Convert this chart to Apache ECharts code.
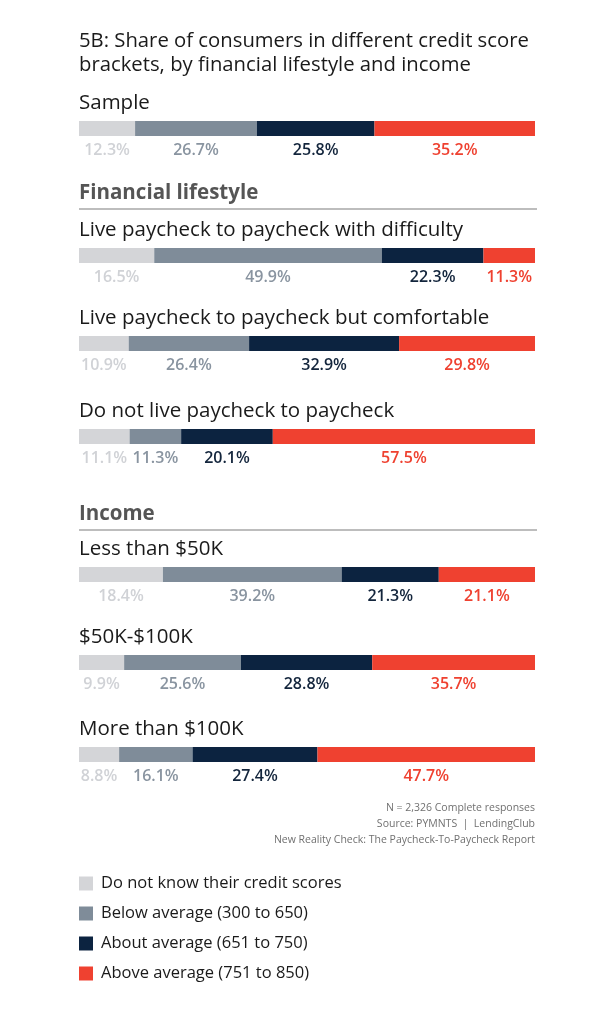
<!DOCTYPE html>
<html><head><meta charset="utf-8">
<script src="https://cdn.jsdelivr.net/npm/echarts@6/dist/echarts.min.js"></script>
<style>html,body{margin:0;padding:0;background:#fff}#c{width:600px;height:1012px}</style>
</head><body><div id="c"></div>
<script>
const categories = ["Sample","Live paycheck to paycheck with difficulty","Live paycheck to paycheck but comfortable","Do not live paycheck to paycheck","Less than $50K","$50K-$100K","More than $100K"];
const dontKnow = [12.3,16.5,10.9,11.1,18.4,9.9,8.8];
const belowAvg = [26.7,49.9,26.4,11.3,39.2,25.6,16.1];
const aboutAvg = [25.8,22.3,32.9,20.1,21.3,28.8,27.4];
const aboveAvg = [35.2,11.3,29.8,57.5,21.1,35.7,47.7];
const seriesNames = ["Do not know their credit scores","Below average (300 to 650)","About average (651 to 750)","Above average (751 to 850)"];
const sections = ["Financial lifestyle","Income"];

const FONT = "'Open Sans', sans-serif";
const barColors = ['#d4d5d8','#7f8c99','#0c2340','#ef4130'];
const labelColors = ['#d0d2d6','#8994a0','#13253c','#ef4130'];
const barTops = [121,248,336,429,567,655,747];
const BAR_H = 15, LEFT = 79, RIGHT = 65;

const chart = echarts.init(document.getElementById('c'), null, {renderer:'canvas'});
const grids=[], xAxes=[], yAxes=[], series=[], graphics=[];
const values=[dontKnow,belowAvg,aboutAvg,aboveAvg];
categories.forEach((cat,i)=>{
  grids.push({left:LEFT,right:RIGHT,top:barTops[i],height:BAR_H});
  xAxes.push({gridIndex:i,type:'value',min:0,max:100,show:false});
  yAxes.push({gridIndex:i,type:'category',data:[cat],show:false});
  values.forEach((arr,s)=>{
    series.push({
      type:'bar',name:seriesNames[s],xAxisIndex:i,yAxisIndex:i,stack:'g'+i,
      barWidth:'100%',data:[arr[i]],
      itemStyle:{color:barColors[s]},
      label:{show:true,position:'bottom',distance:6,formatter:p=>p.value.toFixed(1)+'%',
        color:labelColors[s],fontFamily:FONT,fontSize:16,fontWeight:600}
    });
  });
  graphics.push({type:'text',left:LEFT,top:barTops[i]-28,
    style:{text:cat,font:"400 20.5px "+FONT,fill:'#1a1a1a'}});
});
// title
graphics.push({type:'text',left:LEFT,top:29,style:{text:"5B: Share of consumers in different credit score\nbrackets, by financial lifestyle and income",font:"400 20.3px "+FONT,fill:'#1a1a1a',lineHeight:24}});
// section headers
const secTops=[183,504];
sections.forEach((s,k)=>{
  graphics.push({type:'text',left:LEFT,top:secTops[k],style:{text:s,font:"700 20.5px "+FONT,fill:'#555'}});
});
const lineYs=[209,530];
lineYs.forEach(y=>{
  graphics.push({type:'line',shape:{x1:LEFT,y1:y,x2:537,y2:y},style:{stroke:'#bdbdbd',lineWidth:2}});
});
// source
const srcLines=["N = 2,326 Complete responses","Source: PYMNTS  |  LendingClub","New Reality Check: The Paycheck-To-Paycheck Report"];
srcLines.forEach((t,k)=>{
  graphics.push({type:'text',right:65,top:803+k*16,style:{text:t,font:"400 10.5px "+FONT,fill:'#707070',align:'right'}});
});

chart.setOption({
  animation:false,
  grid:grids,xAxis:xAxes,yAxis:yAxes,series:series,
  legend:{data:seriesNames,orient:'vertical',left:LEFT,top:875,padding:0,itemWidth:14,itemHeight:14,itemGap:13,
    icon:'rect',selectedMode:false,textStyle:{fontFamily:FONT,fontSize:16.5,color:'#1a1a1a',padding:[0,0,0,3]}},
  graphic:graphics
});
</script></body></html>
